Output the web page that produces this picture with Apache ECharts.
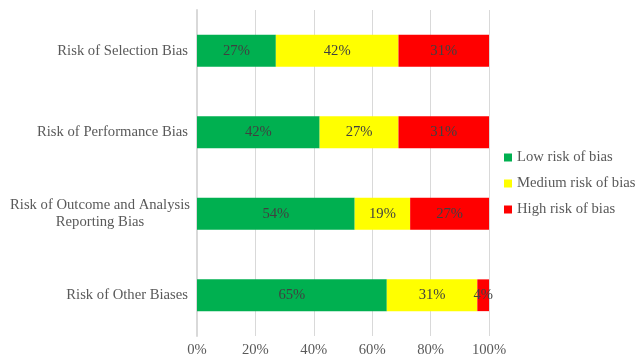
<!DOCTYPE html>
<html>
<head>
<meta charset="utf-8">
<script src="https://cdn.jsdelivr.net/npm/echarts@6/dist/echarts.min.js"></script>
<style>
  html, body { margin: 0; padding: 0; background: #ffffff; }
  #chart { width: 635px; height: 359px; }
</style>
</head>
<body>
<div id="chart"></div>
<script>
// Risk-of-bias domains, top to bottom
const domains = [
  'Risk of Selection Bias',
  'Risk of Performance Bias',
  'Risk of Outcome and Analysis\nReporting Bias',
  'Risk of Other Biases'
];

// Share of studies per risk level (%)
const lowRisk = [27, 42, 54, 65];
const mediumRisk = [42, 27, 19, 31];
const highRisk = [31, 31, 27, 4];

const seriesNames = ['Low risk of bias', 'Medium risk of bias', 'High risk of bias'];
const seriesColors = ['#00B050', '#FFFF00', '#FF0000'];

const FONT = '"Liberation Serif", "Times New Roman", serif';
const FS = 14.67;

const chart = echarts.init(document.getElementById('chart'), null, { renderer: 'canvas' });

function makeSeries(name, values, color) {
  return {
    name: name,
    type: 'bar',
    stack: 'total',
    barWidth: '39%',
    data: values,
    itemStyle: { color: color },
    label: {
      show: true,
      position: 'inside',
      formatter: '{c}%',
      color: '#404040',
      fontFamily: FONT,
      fontSize: FS
    },
    labelLayout: { hideOverlap: false },
    emphasis: { disabled: true }
  };
}

chart.setOption({
  animation: false,
  backgroundColor: '#ffffff',
  grid: { left: 197, right: 146, top: 10, bottom: 23, containLabel: false },
  legend: {
    orient: 'vertical',
    left: 504,
    top: 150,
    padding: 0,
    itemWidth: 8,
    itemHeight: 8,
    itemGap: 11,
    icon: 'rect',
    data: seriesNames,
    textStyle: { color: '#595959', fontFamily: FONT, fontSize: FS, lineHeight: 15 }
  },
  xAxis: {
    type: 'value',
    min: 0,
    max: 100,
    interval: 20,
    axisLine: { show: false },
    axisTick: { show: false },
    splitLine: { show: true, lineStyle: { color: '#d9d9d9', width: 1 } },
    axisLabel: {
      formatter: '{value}%',
      color: '#595959',
      fontFamily: FONT,
      fontSize: FS,
      margin: 7
    }
  },
  yAxis: {
    type: 'category',
    inverse: true,
    data: domains,
    axisLine: { show: true, lineStyle: { color: '#d9d9d9', width: 2 } },
    axisTick: { show: false },
    axisLabel: {
      color: '#595959',
      fontFamily: FONT,
      fontSize: FS,
      margin: 9,
      formatter: function (v) {
        if (v.indexOf('\n') >= 0) {
          return v.split('\n').map(function (s) { return '{c|' + s + '}'; }).join('\n');
        }
        return v;
      },
      rich: {
        c: {
          width: 176,
          align: 'center',
          color: '#595959',
          fontFamily: FONT,
          fontSize: FS,
          lineHeight: 17
        }
      }
    }
  },
  series: [
    makeSeries(seriesNames[0], lowRisk, seriesColors[0]),
    makeSeries(seriesNames[1], mediumRisk, seriesColors[1]),
    makeSeries(seriesNames[2], highRisk, seriesColors[2])
  ]
});
</script>
</body>
</html>
